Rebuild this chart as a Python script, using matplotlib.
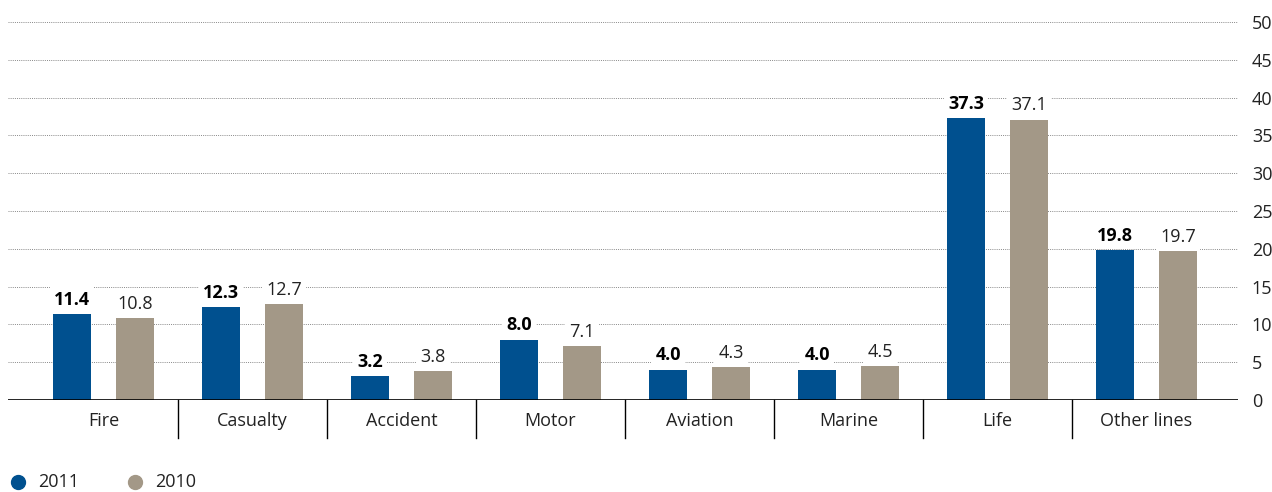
import numpy as np
import matplotlib.pyplot as plt
from matplotlib.lines import Line2D

categories = ['Fire', 'Casualty', 'Accident', 'Motor', 'Aviation', 'Marine', 'Life', 'Other lines']
vals_2011 = [11.4, 12.3, 3.2, 8.0, 4.0, 4.0, 37.3, 19.8]
vals_2010 = [10.8, 12.7, 3.8, 7.1, 4.3, 4.5, 37.1, 19.7]
yticks = [0, 5, 10, 15, 20, 25, 30, 35, 40, 45, 50]

blue = '#00508f'
grey = '#a39887'
txt = '#222222'

plt.rcParams['font.family'] = ['Open Sans', 'DejaVu Sans']

fig = plt.figure(figsize=(12.72, 4.92), dpi=100)
ax = fig.add_axes([8 / 1272, 92 / 492, 1230 / 1272, 378 / 492])

x = np.arange(len(categories))
off = 0.211
w = 0.255
ax.bar(x - off, vals_2011, w, color=blue, zorder=3)
ax.bar(x + off, vals_2010, w, color=grey, zorder=3)

ax.set_xlim(-0.641, 7.614)
ax.set_ylim(0, 50)

# dotted grid
for t in yticks[1:]:
    ax.axhline(t, color='#888888', lw=0.7, ls=(0, (1, 1.2)), zorder=1)
ax.axhline(0, color='black', lw=1.2, zorder=4)

# value labels with white background to break the grid
for i in range(len(categories)):
    ax.text(x[i] - off, vals_2011[i] + 0.7, f'{vals_2011[i]:.1f}', ha='center', va='bottom',
            fontsize=13, fontweight='bold', color='black', zorder=5,
            bbox=dict(facecolor='white', edgecolor='none', pad=3))
    ax.text(x[i] + off, vals_2010[i] + 0.7, f'{vals_2010[i]:.1f}', ha='center', va='bottom',
            fontsize=13, color=txt, zorder=5,
            bbox=dict(facecolor='white', edgecolor='none', pad=3))

# category labels and dividers below the axis
for i, c in enumerate(categories):
    ax.text(x[i], -2.8, c, ha='center', va='center', fontsize=13, color=txt, clip_on=False)
for i in range(1, len(categories)):
    ax.plot([i - 0.5, i - 0.5], [0, -5.0], color='black', lw=1.0, clip_on=False)

# right side y tick labels
ax.set_yticks(yticks)
ax.yaxis.tick_right()
ax.tick_params(axis='y', length=0, pad=10, labelsize=13, labelcolor=txt)
ax.set_xticks([])
for s in ax.spines.values():
    s.set_visible(False)

# legend
ly = 1 - 482 / 492
for px, col, lab in [(18, blue, '2011'), (135, grey, '2010')]:
    fig.add_artist(Line2D([px / 1272], [ly], marker='o', markersize=10, color=col,
                          linestyle='none', transform=fig.transFigure))
    fig.text((px + 20) / 1272, ly, lab, color=txt, fontsize=13, ha='left', va='center')

fig.savefig('out.png', dpi=100)
